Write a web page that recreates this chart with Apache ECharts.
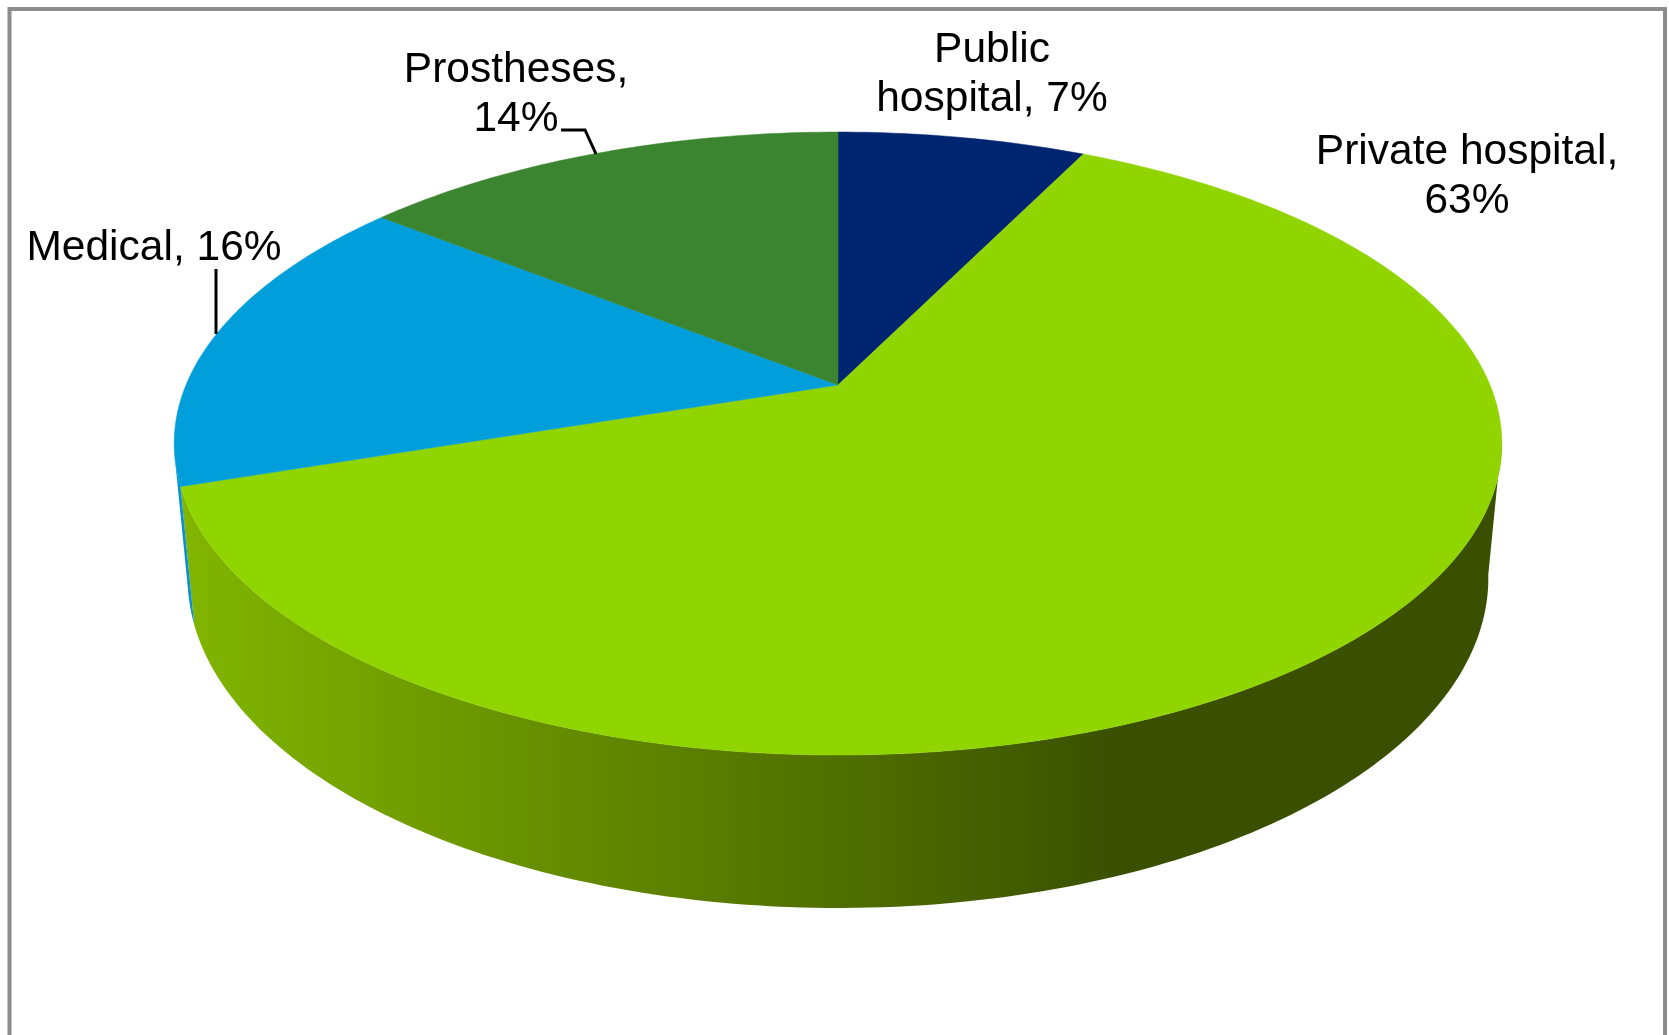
<!DOCTYPE html>
<html>
<head>
<meta charset="utf-8">
<style>html,body{margin:0;padding:0;background:#fff}#c{width:1669px;height:1035px}</style>
<script src="https://cdn.jsdelivr.net/npm/echarts@6/dist/echarts.min.js"></script>
</head>
<body>
<div id="c"></div>
<script>
// Data (shares in %, labels show them rounded)
const sliceNames = ['Public\nhospital', 'Private hospital', 'Medical', 'Prostheses'];
const sliceValues = [7.25, 62.6, 15.85, 14.3];
const labelSeparators = [', ', ',\n', ', ', ',\n'];
const topColors = ['#002570', '#90D400', '#009FDC', '#3C8530'];

// Perspective of the disc
const K = 0.188, DROP = 0.448, SHRINK = 0.02;
const total = sliceValues.reduce((a, b) => a + b, 0);
const starts = [];
sliceValues.reduce((acc, v, i) => { starts[i] = acc; return acc + v; }, 0);
const rad = d => d * Math.PI / 180;
const topPoint = t => {
  const u = Math.sin(rad(t)), v = Math.cos(rad(t)), w = 1 + K * v;
  return [u / w, v / w];
};
const bottomPoint = t => {
  const u = Math.sin(rad(t)), v = Math.cos(rad(t)), w = 1 + K * v + SHRINK;
  return [u / w, (v - DROP) / w];
};
const arc = (fn, a, b) => {
  const n = Math.max(2, Math.ceil(Math.abs(b - a)));
  const out = [];
  for (let i = 0; i <= n; i++) out.push(fn(a + (b - a) * i / n));
  return out;
};
const sliceAngles = (i, value) => {
  const a = starts[i] / total * 360;
  return [a, a + value / total * 360];
};

const wallFill = {
  1: { type: 'linear', x: 180, y: 0, x2: 1118, y2: 0, global: true,
       colorStops: [{ offset: 0, color: '#82B600' }, { offset: 1, color: '#3A5000' }] },
  2: '#0A8FD0'
};
const VIS_MIN = 100, VIS_MAX = 257;

function renderWall(params, api) {
  const i = params.dataIndex;
  const [a0, b0] = sliceAngles(i, api.value(1));
  const a = Math.max(a0, VIS_MIN), b = Math.min(b0, VIS_MAX);
  if (b <= a || !wallFill[i]) return { type: 'group', children: [] };
  const pts = arc(topPoint, a, b).concat(arc(bottomPoint, b, a)).map(p => api.coord(p));
  return { type: 'polygon', shape: { points: pts }, style: { fill: wallFill[i], stroke: null } };
}
function renderTop(params, api) {
  const i = params.dataIndex;
  const [a, b] = sliceAngles(i, api.value(1));
  const pts = [[0, 0]].concat(arc(topPoint, a, b)).map(p => api.coord(p));
  return { type: 'polygon', shape: { points: pts },
    style: { fill: topColors[i], stroke: topColors[i], lineWidth: 0.5 } };
}

const labelPos = [
  { x: 992, y: 75 },
  { x: 1467, y: 177 },
  { x: 154, y: 248 },
  { x: 516, y: 95 }
];
const labelGraphics = sliceNames.map((n, i) => ({
  type: 'text', x: labelPos[i].x, y: labelPos[i].y, z: 10,
  style: {
    text: n + labelSeparators[i] + Math.round(sliceValues[i]) + '%',
    fill: '#000', font: '42.5px "Liberation Sans", Arial, sans-serif',
    lineHeight: 49, align: 'center', verticalAlign: 'middle'
  }
}));
const leaderGraphics = [
  [[216, 269], [216, 334]],
  [[561, 130], [585, 130], [596, 154]]
].map(points => ({
  type: 'polyline', z: 10, shape: { points },
  style: { stroke: '#000', lineWidth: 3, fill: null }
}));
const frame = {
  type: 'polyline', z: 1,
  shape: { points: [[9.5, 1035], [9.5, 9], [1665, 9], [1665, 1035]] },
  style: { stroke: '#8C8C8C', lineWidth: 4, fill: null }
};

const seriesData = sliceNames.map((n, i) => [i, sliceValues[i]]);
const chart = echarts.init(document.getElementById('c'), null, { renderer: 'canvas' });
chart.setOption({
  animation: false,
  backgroundColor: '#fff',
  grid: { left: 186, top: 84.5, width: 1304, height: 601, containLabel: false },
  xAxis: { type: 'value', min: -1, max: 1, show: false },
  yAxis: { type: 'value', min: -1, max: 1, show: false },
  tooltip: { show: false },
  series: [
    { type: 'custom', z: 2, clip: false, silent: true, renderItem: renderWall, data: seriesData },
    { type: 'custom', z: 3, clip: false, silent: true, renderItem: renderTop, data: seriesData }
  ],
  graphic: [frame].concat(leaderGraphics, labelGraphics)
});
</script>
</body>
</html>
